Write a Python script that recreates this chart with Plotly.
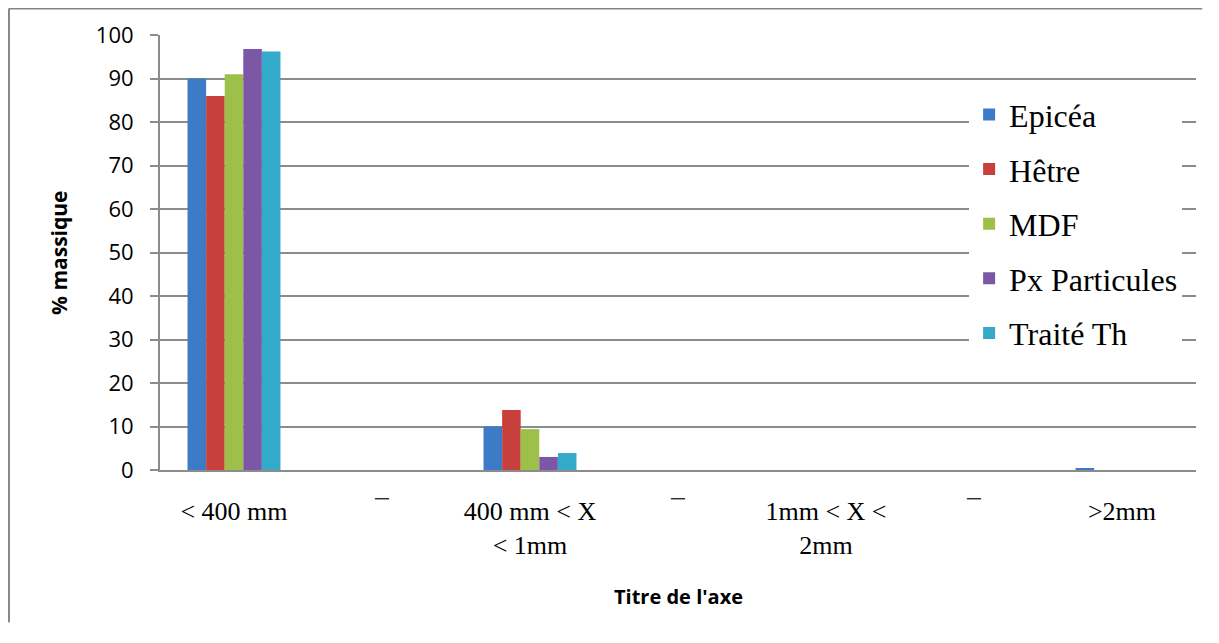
import plotly.graph_objects as go

categories = ["< 400 mm", "400 mm < X\n< 1mm", "1mm < X <\n2mm", ">2mm"]
series_names = ["Epicéa", "Hêtre", "MDF", "Px Particules", "Traité Th"]
epicea = [90.0, 10.0, 0.0, 0.4]
hetre = [86.0, 13.8, 0.0, 0.0]
mdf = [91.0, 9.4, 0.0, 0.0]
px_particules = [96.8, 3.0, 0.0, 0.0]
traite_th = [96.2, 3.9, 0.0, 0.0]
y_ticks = [0, 10, 20, 30, 40, 50, 60, 70, 80, 90, 100]

series_values = [epicea, hetre, mdf, px_particules, traite_th]
colors = ["#3D7BC6", "#C8403C", "#9CC04A", "#7B57A6", "#33AACA"]

cat_keys = [c.replace("\n", " ") for c in categories]
tick_text = [c.replace("<", "&lt;").replace("\n", "<br>") for c in categories]

fig = go.Figure()
for i, (name, vals) in enumerate(zip(series_names, series_values)):
    fig.add_trace(go.Bar(
        name=name, x=cat_keys, y=vals,
        marker=dict(color=colors[i], line=dict(width=0)),
        legendgroup=name,
    ))

grid_col = "#8C8C8C"
# page body has an 8px margin; figure kept smaller than the window to avoid scrollbars
fig.update_layout(
    width=1195, height=615,
    margin=dict(l=152, r=7, t=27, b=153),
    paper_bgcolor="white", plot_bgcolor="white",
    barmode="group", bargap=0.686, bargroupgap=0,
    showlegend=True,
    legend=dict(
        x=0.781, xanchor="left", y=0.880, yanchor="top",
        bgcolor="white", borderwidth=0,
        font=dict(family="Liberation Serif", size=32, color="black"),
        traceorder="grouped", tracegroupgap=10,
        itemclick=False,
    ),
    xaxis=dict(
        type="category", range=[-0.25, 3.25],
        tickvals=cat_keys, ticktext=tick_text,
        ticks="", showgrid=False,
        showline=True, linecolor=grid_col, linewidth=2,
        tickfont=dict(family="Liberation Serif", size=26, color="black"),
        ticklabelstandoff=17,
    ),
    yaxis=dict(
        range=[0, 100], tickvals=y_ticks,
        showgrid=True, gridcolor=grid_col, gridwidth=1.5,
        showline=True, linecolor=grid_col, linewidth=2,
        ticks="outside", ticklen=8, tickcolor=grid_col, tickwidth=1.5,
        tickfont=dict(family="Open Sans", size=22, color="black"),
        ticklabelstandoff=12,
        zeroline=False,
    ),
)

# axis titles
fig.add_annotation(text="<b>% massique</b>", xref="paper", yref="paper",
                   x=-0.098, y=0.5, xanchor="center", yanchor="middle",
                   textangle=-90, showarrow=False,
                   font=dict(family="Open Sans", size=21, color="black"))
fig.add_annotation(text="<b>Titre de l'axe</b>", xref="paper", yref="paper",
                   x=0.5, y=-0.29, xanchor="center", yanchor="middle",
                   showarrow=False,
                   font=dict(family="Open Sans", size=20, color="black"))

# small dash marks between categories
for i in range(len(categories) - 1):
    fig.add_shape(type="line", xref="x", yref="paper",
                  x0=i + 0.5 - 0.024, x1=i + 0.5 + 0.024, y0=-0.066, y1=-0.066,
                  line=dict(color="#333333", width=1.5))

# outer chart border: only its left and top sides are visible in the frame
border = dict(color="#868686", width=2)
fig.add_shape(type="line", xref="paper", yref="paper",
              x0=-0.1458, x1=-0.1458, y0=-0.35, y1=1.061, line=border, layer="below")
fig.add_shape(type="line", xref="paper", yref="paper",
              x0=-0.1458, x1=1.006, y0=1.061, y1=1.061, line=border, layer="below")

fig.write_html("out.html")
